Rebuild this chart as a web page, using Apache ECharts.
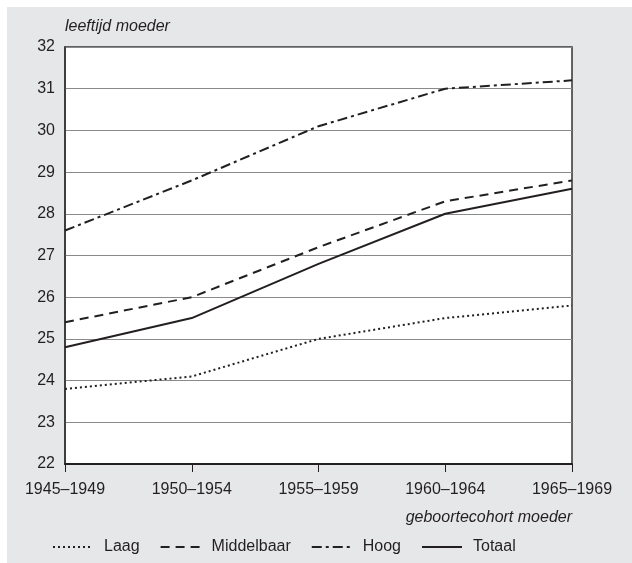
<!DOCTYPE html>
<html>
<head>
<meta charset="utf-8">
<script src="https://cdn.jsdelivr.net/npm/echarts@6/dist/echarts.min.js"></script>
<style>
  html, body { margin: 0; padding: 0; background: #fff; }
  #chart { position: absolute; left: 7px; top: 7px; width: 625px; height: 556px; background: #e6e7e8; }
</style>
</head>
<body>
<div id="chart"></div>
<script>
const cohorts = ['1945–1949', '1950–1954', '1955–1959', '1960–1964', '1965–1969'];
const laag = [23.8, 24.1, 25.0, 25.5, 25.8];
const middelbaar = [25.4, 26.0, 27.2, 28.3, 28.8];
const hoog = [27.6, 28.8, 30.1, 31.0, 31.2];
const totaal = [24.8, 25.5, 26.8, 28.0, 28.6];

const ink = '#231f20';
const font = 'Liberation Sans, Arial, sans-serif';

function lineSeries(name, data, type) {
  return {
    name: name,
    type: 'line',
    data: data,
    symbol: 'none',
    lineStyle: { color: ink, width: 2, type: type },
    itemStyle: { color: ink },
    z: 5,
  };
}

const chart = echarts.init(document.getElementById('chart'));
chart.setOption({
  animation: false,
  textStyle: { fontFamily: font },
  grid: {
    left: 58, right: 60, top: 40, bottom: 99,
    show: true, backgroundColor: '#fff', borderColor: '#333', borderWidth: 1.5,
  },
  legend: {
    left: 40,
    bottom: 3,
    itemWidth: 40,
    itemHeight: 10,
    itemGap: 20,
    itemStyle: { color: 'transparent', borderColor: 'transparent', borderWidth: 0 },
    textStyle: { fontSize: 16, color: ink, fontFamily: font, padding: [0, 0, 0, 6] },
    data: ['Laag', 'Middelbaar', 'Hoog', 'Totaal'],
  },
  xAxis: {
    type: 'category',
    data: cohorts,
    boundaryGap: false,
    name: 'geboortecohort moeder',
    nameLocation: 'end',
    nameGap: 0,
    nameTextStyle: {
      fontSize: 16, fontStyle: 'italic', color: ink, fontFamily: font,
      align: 'right', verticalAlign: 'top', padding: [46, 0, 0, 0],
    },
    axisLine: { lineStyle: { color: ink, width: 2 } },
    axisTick: { show: true, length: 8, lineStyle: { color: ink, width: 1 } },
    axisLabel: { fontSize: 16, color: ink, margin: 18 },
  },
  yAxis: {
    type: 'value',
    min: 22,
    max: 32,
    interval: 1,
    name: 'leeftijd moeder',
    nameLocation: 'end',
    nameGap: 12,
    nameTextStyle: {
      fontSize: 16, fontStyle: 'italic', color: ink, fontFamily: font,
      align: 'left',
    },
    axisLine: { show: true, lineStyle: { color: '#333', width: 1.5 } },
    axisTick: { show: false },
    axisLabel: { fontSize: 16, color: ink, margin: 10 },
    splitLine: { lineStyle: { color: '#8a8a8a', width: 1 } },
  },
  series: [
    lineSeries('Laag', laag, [2, 3]),
    lineSeries('Middelbaar', middelbaar, [9, 6]),
    lineSeries('Hoog', hoog, [10, 4, 3, 4]),
    lineSeries('Totaal', totaal, 'solid'),
  ],
});
</script>
</body>
</html>
